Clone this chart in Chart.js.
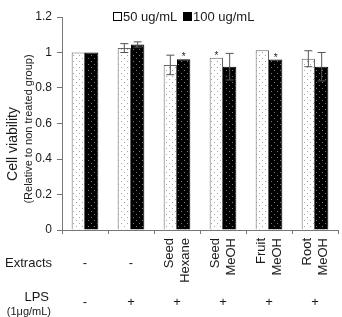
<!DOCTYPE html>
<html>
<head>
<meta charset="utf-8">
<script src="https://cdn.jsdelivr.net/npm/chart.js@4"></script>
<style>
  html, body { margin: 0; padding: 0; background: #fff; }
  #wrap { width: 342px; height: 317px; position: relative; }
</style>
</head>
<body>
<div id="wrap"><canvas id="viabilityChart"></canvas></div>
<script>
// data
const groupKeys = ['ctrl', 'lps', 'seedHex', 'seedMeoh', 'fruitMeoh', 'rootMeoh'];
const extractLabels = [['-'], ['-'], ['Seed', 'Hexane'], ['Seed', 'MeOH'], ['Fruit', 'MeOH'], ['Root', 'MeOH']];
const lpsLabels = ['-', '+', '+', '+', '+', '+'];
const seriesNames = ['50 ug/mL', '100 ug/mL'];
const values50 = [1.0, 1.025, 0.93, 0.97, 1.013, 0.965];
const err50 = [0, 0.025, 0.055, 0, 0, 0.045];
const values100 = [1.0, 1.045, 0.962, 0.92, 0.96, 0.92];
const err100 = [0, 0.015, 0, 0.075, 0, 0.08];
const star50 = [false, false, false, true, false, false];
const star100 = [false, false, true, false, true, false];
const yTicks = [0, 0.2, 0.4, 0.6, 0.8, 1, 1.2];

const FONT = "'Liberation Sans', Arial, sans-serif";

function dotPattern(bg, dot) {
    const c = document.createElement('canvas');
    c.width = 6; c.height = 6;
    const g = c.getContext('2d');
    g.fillStyle = bg;
    g.fillRect(0, 0, 6, 6);
    g.fillStyle = dot;
    g.fillRect(1, 1, 1, 1);
    g.fillRect(4, 4, 1, 1);
    return g.createPattern(c, 'repeat');
}

const ctx = document.getElementById('viabilityChart').getContext('2d');
const lightFill = dotPattern('#ffffff', '#a5a5a5');
const darkFill = dotPattern('#000000', '#7a7a7a');

// error bars, stars and the text rows under the axis
const extrasPlugin = {
    id: 'extras',
    afterDatasetsDraw(chart) {
        const c = chart.ctx;
        const y = chart.scales.y;
        const errs = [err50, err100];
        const stars = [star50, star100];
        c.save();
        chart.data.datasets.forEach((ds, di) => {
            const meta = chart.getDatasetMeta(di);
            meta.data.forEach((bar, i) => {
                const e = errs[di][i];
                const v = ds.data[i];
                let topPx = y.getPixelForValue(v);
                if (e > 0) {
                    const hi = y.getPixelForValue(v + e);
                    const lo = y.getPixelForValue(v - e);
                    c.strokeStyle = '#555';
                    c.lineWidth = 1;
                    c.beginPath();
                    c.moveTo(bar.x, hi); c.lineTo(bar.x, lo);
                    c.moveTo(bar.x - 4, hi); c.lineTo(bar.x + 4, hi);
                    c.moveTo(bar.x - 4, lo); c.lineTo(bar.x + 4, lo);
                    c.stroke();
                    topPx = hi;
                }
                if (stars[di][i]) {
                    c.fillStyle = '#222';
                    c.font = '10px ' + FONT;
                    c.textAlign = 'center';
                    c.textBaseline = 'alphabetic';
                    c.fillText('*', bar.x, topPx + 1);
                }
            });
        });
        c.restore();
    },
    afterDraw(chart) {
        const c = chart.ctx;
        const x = chart.scales.x;
        c.save();
        c.fillStyle = '#1a1a1a';

        // y titles
        c.save();
        c.translate(13, 144);
        c.rotate(-Math.PI / 2);
        c.textAlign = 'center';
        c.textBaseline = 'middle';
        c.font = '14px ' + FONT;
        c.fillText('Cell viability', 0, 0);
        c.restore();
        c.save();
        c.translate(29, 129);
        c.rotate(-Math.PI / 2);
        c.textAlign = 'center';
        c.textBaseline = 'middle';
        c.font = '11px ' + FONT;
        c.fillText('(Relative to non treated group)', 0, 0);
        c.restore();

        // legend
        c.font = '13px ' + FONT;
        c.textBaseline = 'middle';
        c.textAlign = 'left';
        c.lineWidth = 1;
        c.strokeStyle = '#000';
        c.fillStyle = '#fff';
        c.fillRect(113.5, 12.5, 8, 8);
        c.strokeRect(113.5, 12.5, 8, 8);
        c.fillStyle = '#1a1a1a';
        c.fillText(seriesNames[0], 123, 17);
        c.fillStyle = '#000';
        c.fillRect(183.5, 12.5, 8, 8);
        c.strokeRect(183.5, 12.5, 8, 8);
        c.fillStyle = '#1a1a1a';
        c.fillText(seriesNames[1], 193, 17);

        // row labels
        c.textAlign = 'right';
        c.font = '13px ' + FONT;
        c.fillText('Extracts', 52, 263);
        c.fillText('LPS', 49, 297);
        c.font = '11px ' + FONT;
        c.fillText('(1\u03bcg/mL)', 51, 312);

        groupKeys.forEach((k, i) => {
            const cx = x.getPixelForValue(i);
            const lines = extractLabels[i];
            c.font = '13px ' + FONT;
            if (lines.length === 1) {
                c.textAlign = 'center';
                c.textBaseline = 'middle';
                c.fillText(lines[0], cx, 263);
            } else {
                lines.forEach((t, li) => {
                    c.save();
                    c.translate(cx - 8 + li * 16, 238);
                    c.rotate(-Math.PI / 2);
                    c.textAlign = 'right';
                    c.textBaseline = 'middle';
                    c.fillText(t, 0, 0);
                    c.restore();
                });
            }
            c.textAlign = 'center';
            c.textBaseline = 'middle';
            c.fillText(lpsLabels[i], cx, 302);
        });
        c.restore();
    }
};

const viabilityChart = new Chart(ctx, {
    type: 'bar',
    data: {
        labels: groupKeys,
        datasets: [{
            label: seriesNames[0],
            data: values50,
            backgroundColor: lightFill,
            borderColor: '#666',
            borderWidth: 1
        },
        {
            label: seriesNames[1],
            data: values100,
            backgroundColor: darkFill,
            borderColor: '#000',
            borderWidth: 1
        }]
    },
    options: {
        responsive: true,
        maintainAspectRatio: false,
        animation: false,
        layout: { padding: { top: 17, right: 4, left: 0, bottom: 0 } },
        plugins: {
            legend: { display: false },
            tooltip: { enabled: false }
        },
        datasets: { bar: { categoryPercentage: 0.58, barPercentage: 1 } },
        scales: {
            x: {
                grid: { drawOnChartArea: false, tickLength: 4, color: '#777' },
                border: { color: '#777' },
                ticks: { display: false },
                afterFit(s) { s.height = 87; }
            },
            y: {
                min: 0,
                max: 1.2,
                afterBuildTicks(s) { s.ticks = yTicks.map(v => ({ value: v })); },
                grid: { drawOnChartArea: false, tickLength: 5, color: '#777' },
                border: { color: '#777' },
                ticks: {
                    color: '#1a1a1a',
                    font: { family: FONT, size: 12 },
                    padding: 5,
                    callback: v => String(v)
                },
                afterFit(s) { s.width = 62; }
            }
        }
    },
    plugins: [extrasPlugin]
});
</script>
</body>
</html>
